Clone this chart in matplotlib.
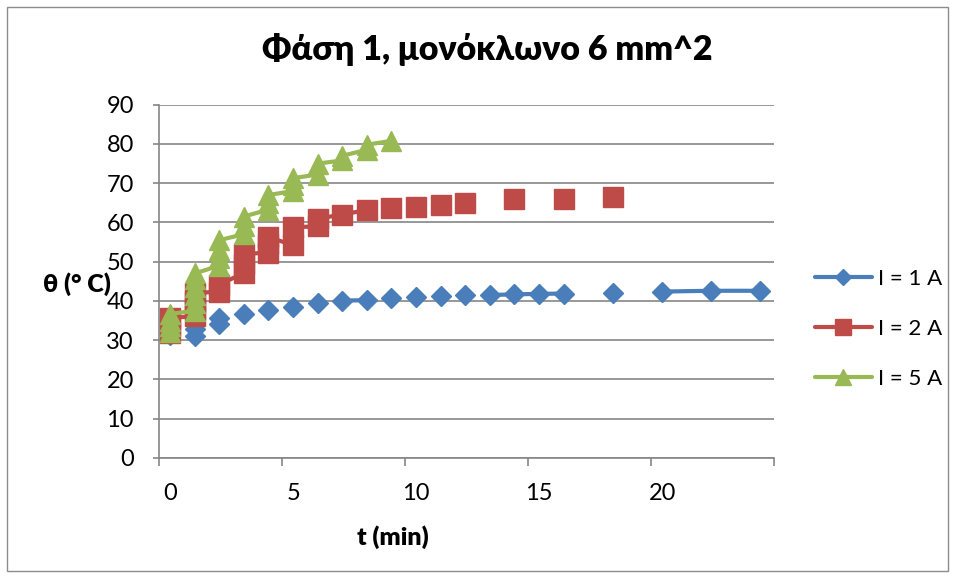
import numpy as np
import matplotlib.pyplot as plt
from matplotlib.patches import Rectangle

plt.rcParams['font.family'] = ['Lato', 'DejaVu Sans']

# t (min), θ (°C). None = κενό κελί, η γραμμή διακόπτεται εκεί
t_1A = [0, None, 1, 1, None, 2, 2, None, 3, None, 4, None, 5, None, 6, None,
        7, 8, None, 9, None, 10, None, 11, None, 12, None,
        13, 14, 15, 16, None, 18, None, 20, 22, 24]
th_1A = [31.3, None, 31.0, 32.8, None, 34.1, 35.7, None, 36.8, None, 37.7, None, 38.5, None, 39.6, None,
         40.1, 40.2, None, 40.7, None, 40.9, None, 41.3, None, 41.4, None,
         41.5, 41.7, 41.8, 41.9, None, 42.1, None, 42.4, 42.6, 42.6]

t_2A = [0, 0, 0, 1, 1, 1, 1, 2, 2, 3, 3, 3, 4, 4, 4, 5, 5, 6, 6, 7, 8,
        None, 9, None, 10, None, 11, None, 12, None, 14, None, 16, None, 18]
th_2A = [31.8, 33.5, 35.6, 36.2, 38.0, 40.0, 42.0, 42.4, 44.1, 47.2, 49.5, 52.0,
         52.3, 54.5, 56.3, 54.2, 58.8, 59.0, 61.0, 62.0, 63.2,
         None, 63.7, None, 64.0, None, 64.4, None, 65.0, None, 65.9, None, 66.1, None, 66.4]

t_5A = [0, 0, 0, 0, 1, 1, 1, 1, 1, 1, 2, 2, 2, 2, 3, 3, 3, 4, 4, 4,
        5, 5, 5, 6, 6, 7, 7, 8, 8, 9]
th_5A = [32.0, 33.5, 35.0, 36.7, 37.5, 39.5, 41.5, 43.5, 45.5, 47.0,
         49.0, 51.0, 53.0, 55.5, 57.0, 59.0, 61.5, 63.3, 65.0, 67.0,
         68.0, 69.5, 71.3, 72.2, 75.0, 75.8, 77.0, 78.5, 79.8, 80.8]

labels = ['I = 1 A', 'I = 2 A', 'I = 5 A']
colors = ['#4A7EBB', '#BE4B48', '#98B954']
markers = ['D', 's', '^']
msizes = [10, 14.5, 14]
xticks = [0, 5, 10, 15, 20]

W, H = 956, 578
fig = plt.figure(figsize=(W / 100, H / 100), dpi=100)
ax = fig.add_axes([159 / W, 1 - 458 / H, (774 - 159) / W, (458 - 104.7) / H])

series = [(t_1A, th_1A), (t_2A, th_2A), (t_5A, th_5A)]
for (t, th), lab, c, m, ms in zip(series, labels, colors, markers, msizes):
    t = np.array(t, dtype=float)
    th = np.array(th, dtype=float)
    ax.plot(t, th, color=c, lw=3, marker=m, ms=ms, mfc=c, mec=c,
            label=lab, solid_capstyle='round')

gray = '#868686'
ax.set_ylim(0, 90)
ax.set_xlim(-0.45, 24.55)
ax.set_yticks(np.arange(0, 91, 10))
ax.yaxis.grid(True, color=gray, lw=1.2)
ax.set_axisbelow(True)
for s in ['top', 'right']:
    ax.spines[s].set_visible(False)
for s in ['left', 'bottom']:
    ax.spines[s].set_color(gray)
    ax.spines[s].set_linewidth(1.2)

ax.set_xticks(xticks)
ax.set_xticks(np.arange(-0.45, 25, 5), minor=True)
ax.tick_params(axis='x', which='major', length=0, pad=18, labelsize=17)
ax.tick_params(axis='x', which='minor', length=6, width=1.2, color=gray)
ax.tick_params(axis='y', length=4, width=1.2, color=gray, pad=14, labelsize=17)

fig.text(487, 50, 'Φάση 1, μονόκλωνο 6 mm^2', transform=None,
         fontsize=24.5, fontweight='heavy', ha='center', va='center')
fig.text(393, 537, 't (min)', transform=None, fontsize=18, fontweight='heavy',
         ha='center', va='center')
fig.text(77, 284, 'θ (° C)', transform=None, fontsize=18, fontweight='heavy',
         ha='center', va='center')

ax.legend(loc='center left', bbox_to_anchor=(795 / W, 1 - 329 / H),
          bbox_transform=fig.transFigure, frameon=False, fontsize=16,
          handlelength=2.55, handletextpad=0.3, labelspacing=1.35,
          markerscale=0.8)

# πλαίσιο γραφήματος
fig.add_artist(Rectangle((7 / W, 7 / H), (948 - 7) / W, (571 - 7) / H,
                         transform=fig.transFigure, fill=False,
                         edgecolor='#8c8c8c', lw=1))

# y pixels are measured from the top, fix text positions
for txt in fig.texts:
    x, y = txt.get_position()
    txt.set_position((x / W, 1 - y / H))
    txt.set_transform(fig.transFigure)

fig.savefig('out.png', dpi=100)
